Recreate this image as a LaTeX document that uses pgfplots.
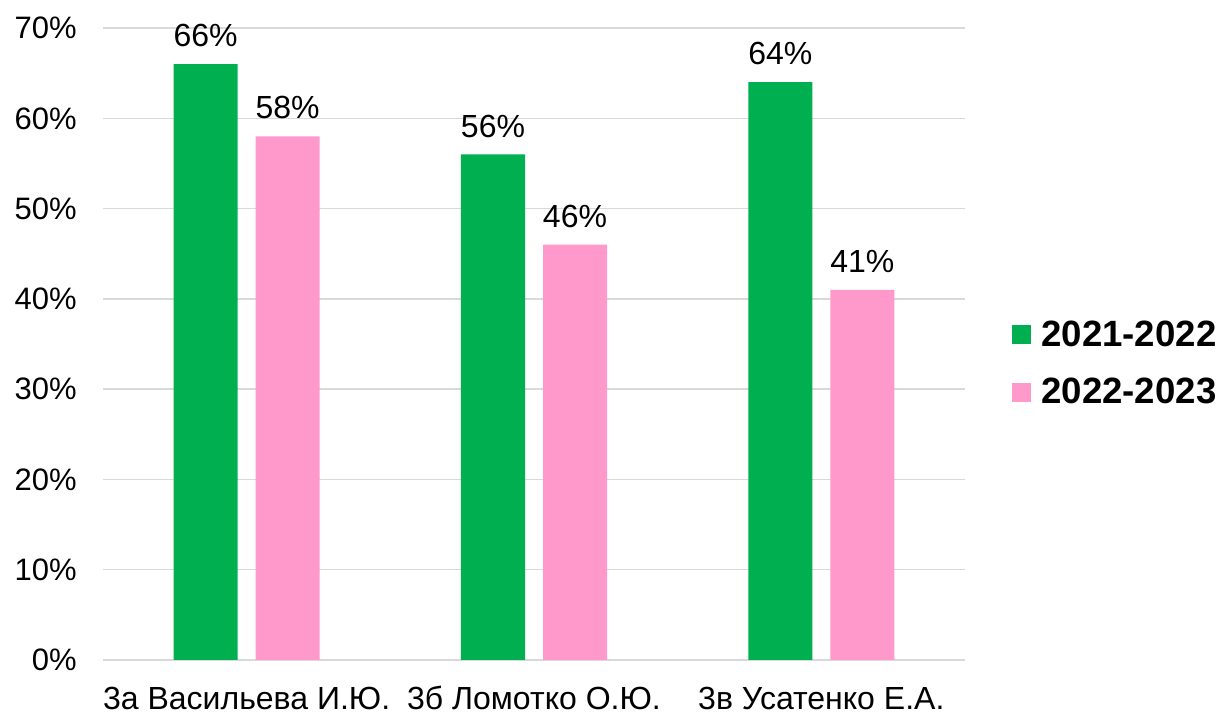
\documentclass[border=0pt]{standalone}
\usepackage{pgfplots}
\pgfplotsset{compat=1.18}
\usepackage{fontspec}
\setmainfont{Liberation Sans}
\definecolor{cgreen}{HTML}{00B050}
\definecolor{cpink}{HTML}{FF99CC}
\definecolor{cgrid}{HTML}{D9D9D9}
\newcommand{\fs}{\fontsize{16}{19}\selectfont}
\newcommand{\fy}{\fontsize{15.5}{18}\selectfont}
\begin{document}
\begin{tikzpicture}
\path[use as bounding box] (-51.5pt,-28pt) rectangle (559.5pt,330pt);
\begin{axis}[
  at={(0,0)}, anchor=south west,
  scale only axis, width=431pt, height=316pt,
  ybar=9pt, bar width=32pt,
  xmin=-0.5, xmax=2.5, ymin=0, ymax=70,
  ytick={0,10,...,70},
  xtick={0,1,2},
  xticklabels={3а Васильева И.Ю., 3б Ломотко О.Ю., 3в Усатенко Е.А.},
  yticklabel={\pgfmathprintnumber{\tick}\%},
  /pgf/number format/assume math mode=true,
  ymajorgrids, grid style={cgrid, line width=0.75pt},
  axis line style={draw=none},
  major tick length=0pt,
  tick style={draw=none},
  xticklabel style={font=\fs},
  yticklabel style={font=\fy, inner sep=0pt, text depth=0pt},
  yticklabel shift=13pt,
  xticklabel style={inner sep=0pt, text height=11.5pt, text depth=3pt},
  xticklabel shift=13pt,
  nodes near coords={\pgfmathprintnumber{\pgfplotspointmeta}\%},
  nodes near coords style={font=\fs, inner sep=0pt, anchor=south, yshift=8.5pt, text depth=0pt, /pgf/number format/assume math mode=true},
  legend image code/.code={\fill[#1] (0pt,-4.75pt) rectangle (9.5pt,4.75pt);},
  legend style={draw=none, fill=none, inner sep=0pt, at={(1.0545,0.469)}, anchor=west,
    font=\bfseries\fontsize{18.3}{22}\selectfont, row sep=14.5pt,
    nodes={inner sep=0pt}},
  legend cell align=left,
]
\addplot[fill=cgreen, draw=none] coordinates {(0,66) (1,56) (2,64)};
\addlegendentry{\hspace{5pt}2021-2022}
\addplot[fill=cpink, draw=none] coordinates {(0,58) (1,46) (2,41)};
\addlegendentry{\hspace{5pt}2022-2023}
\end{axis}
\end{tikzpicture}
\end{document}
